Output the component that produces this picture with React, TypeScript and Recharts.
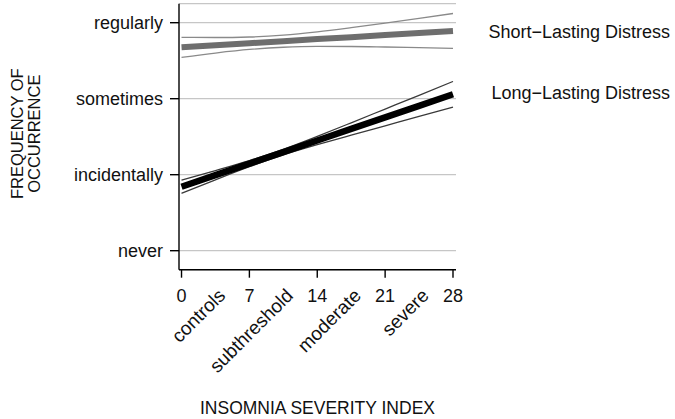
import React from 'react'
import { CartesianGrid, Line, LineChart, XAxis, YAxis } from 'recharts'

// fitted trend and 95% band, read at every half-category step of the ISI
const isiScores = [0, 3.5, 7, 10.5, 14, 17.5, 21, 24.5, 28]
const shortFit = [2.676, 2.703, 2.73, 2.757, 2.784, 2.81, 2.837, 2.864, 2.891]
const shortUpper = [2.808, 2.805, 2.812, 2.836, 2.879, 2.934, 2.994, 3.057, 3.121]
const shortLower = [2.545, 2.601, 2.648, 2.677, 2.688, 2.687, 2.68, 2.671, 2.661]
const longFit = [0.842, 0.994, 1.146, 1.298, 1.45, 1.602, 1.754, 1.906, 2.058]
const longUpper = [0.93, 1.055, 1.186, 1.335, 1.505, 1.683, 1.864, 2.045, 2.227]
const longLower = [0.754, 0.933, 1.106, 1.261, 1.395, 1.521, 1.644, 1.767, 1.889]

const scoreTicks = [0, 7, 14, 21, 28]
const groupTicks = [3.5, 10.5, 17.5, 24.5]
const groupLabels = ['controls', 'subthreshold', 'moderate', 'severe']
const freqTicks = [0, 1, 2, 3]
const freqLabels = ['never', 'incidentally', 'sometimes', 'regularly']
const seriesNames = ['Short−Lasting Distress', 'Long−Lasting Distress']

const data = isiScores.map((x, i) => ({
  x,
  shortFit: shortFit[i],
  shortUpper: shortUpper[i],
  shortLower: shortLower[i],
  longFit: longFit[i],
  longUpper: longUpper[i],
  longLower: longLower[i]
}))

const font = '"Liberation Sans", Arial, sans-serif'
const ink = '#111'
const axisStyle = { stroke: '#000', strokeWidth: 1.4 }

const IsiTick = (props: any) => {
  const { x, y, payload } = props
  const v = payload.value
  const g = groupTicks.indexOf(v)
  if (g >= 0) {
    const ax = x + 11
    const ay = y + 27
    return (
      <text x={ax} y={ay} transform={`rotate(-45, ${ax}, ${ay})`} textAnchor='end'
        fontSize={19} fill={ink} fontFamily={font}>
        {groupLabels[g]}
      </text>
    )
  }
  if (!scoreTicks.includes(v)) return null
  return (
    <g>
      <line x1={x} x2={x} y1={y} y2={y + 8} {...axisStyle} />
      <text x={x} y={y + 32} textAnchor='middle' fontSize={18} fill={ink} fontFamily={font}>{v}</text>
    </g>
  )
}

const renderYTitle = (props: any) => {
  const { viewBox } = props
  const cx = viewBox.x + 23
  const cy = viewBox.y + viewBox.height / 2 - 3
  return (
    <g transform={`translate(${cx}, ${cy}) rotate(-90)`} fontFamily={font} fontSize={16.5} fill={ink}>
      <text x={0} y={0} textAnchor='middle'>FREQUENCY OF</text>
      <text x={0} y={17} textAnchor='middle'>OCCURRENCE</text>
    </g>
  )
}

const renderXTitle = (props: any) => {
  const { viewBox } = props
  return (
    <text x={viewBox.x + viewBox.width / 2} y={viewBox.y + 144.5} textAnchor='middle'
      fontSize={17.5} fill={ink} fontFamily={font}>
      INSOMNIA SEVERITY INDEX
    </text>
  )
}

const endLabel = (name: string, dy: number) => (props: any) => {
  if (props.index !== isiScores.length - 1) return null
  return (
    <text x={props.x + 217} y={props.y + dy} textAnchor='end' fontSize={18} fill={ink} fontFamily={font}>
      {name}
    </text>
  )
}

export default function App() {
  return (
    <div style={{ position: 'absolute', left: 0, top: 0, background: '#fff' }}>
      <LineChart width={675} height={419} data={data}
        margin={{ top: 3.7, right: 219, bottom: 0, left: 0 }}>
        <CartesianGrid horizontal vertical={false} stroke='#c6c6c6' strokeWidth={1.2} />
        <XAxis dataKey='x' type='number' domain={[-0.26, 28.31]} allowDataOverflow
          ticks={[...scoreTicks, ...groupTicks].sort((a, b) => a - b)} interval={0}
          height={149.3} tickSize={0} tickMargin={0} tickLine={false}
          axisLine={axisStyle} tick={<IsiTick />} label={renderXTitle} />
        <YAxis type='number' domain={[-0.25, 3.25]} allowDataOverflow ticks={freqTicks}
          interval={0} width={179} tickSize={9} tickMargin={7}
          tickFormatter={(v: number) => freqLabels[v]}
          axisLine={axisStyle} tickLine={axisStyle}
          tick={{ fontSize: 18, fill: ink, fontFamily: font }} label={renderYTitle} />

        <Line dataKey='shortUpper' type='monotone' stroke='#8a8a8a' strokeWidth={1.3}
          dot={false} isAnimationActive={false} />
        <Line dataKey='shortLower' type='monotone' stroke='#8a8a8a' strokeWidth={1.3}
          dot={false} isAnimationActive={false} />
        <Line dataKey='shortFit' type='linear' stroke='#6e6e6e' strokeWidth={6}
          dot={false} isAnimationActive={false} label={endLabel(seriesNames[0], 7)} />

        <Line dataKey='longUpper' type='monotone' stroke='#3a3a3a' strokeWidth={1.3}
          dot={false} isAnimationActive={false} />
        <Line dataKey='longLower' type='monotone' stroke='#3a3a3a' strokeWidth={1.3}
          dot={false} isAnimationActive={false} />
        <Line dataKey='longFit' type='linear' stroke='#000' strokeWidth={6.5}
          dot={false} isAnimationActive={false} label={endLabel(seriesNames[1], 5)} />
      </LineChart>
    </div>
  )
}
